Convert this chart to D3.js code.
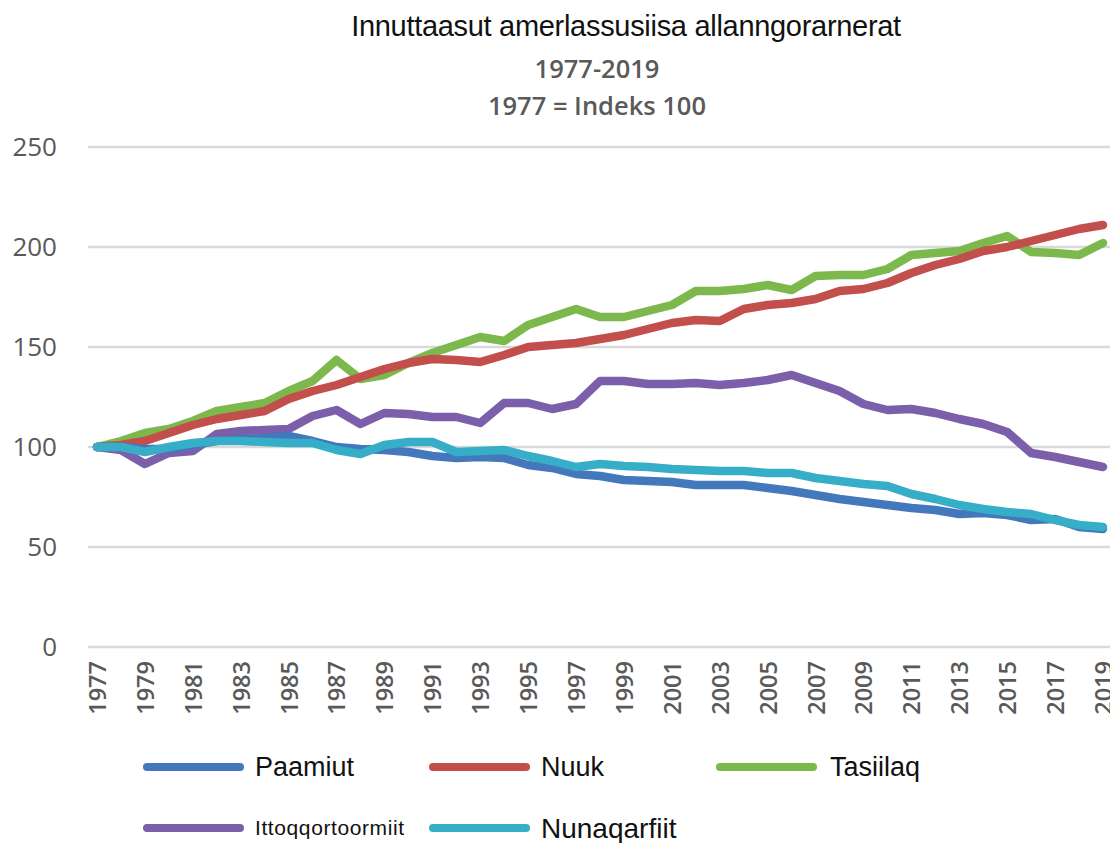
<!DOCTYPE html>
<html lang="kl">
  <head>
    <meta charset="utf-8">
    <title>Innuttaasut amerlassusiisa allanngorarnerat</title>
    <script src="https://cdn.jsdelivr.net/npm/d3@7"></script>
    <style>
      body { margin: 0; background: #fff; }
    </style>
  </head>
  <body>
    <div id="chart"></div>
    <script>
      // years 1977-2019, index 1977 = 100
      const years = d3.range(1977, 2020);

      const paamiut = [100, 100, 99, 99, 101, 103, 104, 104.5, 105.5, 103,
                       100, 99, 98.5, 97.5, 95.5, 94.5, 95, 94.5, 91, 89.5,
                       86.5, 85.5, 83.5, 83, 82.5, 81, 81, 81, 79.5, 78,
                       76, 74, 72.5, 71, 69.5, 68.5, 66.5, 67, 66, 63.5,
                       64, 60, 59];
      const nuuk = [100, 101, 103, 107, 111, 114, 116, 118, 124, 128,
                    131, 135, 139, 142, 144, 143.5, 142.5, 146, 150, 151,
                    152, 154, 156, 159, 162, 163.5, 163, 169, 171, 172,
                    174, 178, 179, 182, 187, 191, 194, 198, 200, 203,
                    206, 209, 211];
      const tasiilaq = [100, 103, 107, 109, 113, 118, 120, 122, 128, 133,
                        143.5, 134, 136, 142, 147, 151, 155, 153, 161, 165,
                        169, 165, 165, 168, 171, 178, 178, 179, 181, 178.5,
                        185.5, 186, 186, 189, 196, 197, 198, 202, 205.5, 197.5,
                        197, 196, 202];
      const ittoqqortoormiit = [100, 98.5, 91.5, 97, 98, 106.5, 108, 108.5, 109, 115.5,
                                118.5, 111.5, 117, 116.5, 115, 115, 112, 122, 122, 119,
                                121.5, 133, 133, 131.5, 131.5, 132, 131, 132, 133.5, 136,
                                132, 128, 121.5, 118.5, 119, 117, 114, 111.5, 107.5, 97,
                                95, 92.5, 90];
      const nunaqarfiit = [100, 100, 97.5, 100, 102, 103, 103, 102.5, 102, 102,
                           98.5, 96.5, 101, 102.5, 102.5, 97.5, 98, 98.5, 95.5, 93,
                           90, 91.5, 90.5, 90, 89, 88.5, 88, 88, 87, 87,
                           84.5, 83, 81.5, 80.5, 76.5, 74, 71, 69, 67.5, 66.5,
                           63.5, 61, 60];

      const yTicks = [0, 50, 100, 150, 200, 250];
      const xTickYears = years.filter(y => (y - 1977) % 2 === 0);

      const title = "Innuttaasut amerlassusiisa allanngorarnerat";
      const subtitle = ["1977-2019", "1977 = Indeks 100"];

      const series = [
        {name: "Paamiut", values: paamiut, color: "#4478bd"},
        {name: "Nuuk", values: nuuk, color: "#c24f4c"},
        {name: "Tasiilaq", values: tasiilaq, color: "#7cb84c"},
        {name: "Ittoqqortoormiit", values: ittoqqortoormiit, color: "#7b5fab"},
        {name: "Nunaqarfiit", values: nunaqarfiit, color: "#36aec7"}
      ];
      // draw order: bottom to top as in the picture
      const drawOrder = ["Tasiilaq", "Nuuk", "Ittoqqortoormiit", "Paamiut", "Nunaqarfiit"];

      const svgWidth = 1110, svgHeight = 843;

      const svg = d3.select("#chart")
          .append("svg")
          .attr("width", svgWidth)
          .attr("height", svgHeight);

      const xScale = d3.scaleLinear()
          .domain([1977, 2019])
          .range([97, 1103]);

      const yScale = d3.scaleLinear()
          .domain([0, 250])
          .range([647, 147]);

      // gridlines
      svg.append("g")
          .selectAll("line")
          .data(yTicks)
          .enter().append("line")
          .attr("x1", 88)
          .attr("x2", svgWidth)
          .attr("y1", d => yScale(d))
          .attr("y2", d => yScale(d))
          .attr("stroke", "#d9d9d9")
          .attr("stroke-width", 2.5);

      // y axis labels
      const yAxis = d3.axisLeft(yScale).tickValues(yTicks).tickSize(0).tickPadding(0);
      svg.append("g")
          .attr("class", "y-axis")
          .attr("transform", "translate(57,0)")
          .call(yAxis)
          .call(g => g.select(".domain").remove())
          .selectAll("text")
          .attr("font-family", "'Open Sans', sans-serif")
          .attr("font-size", 26)
          .attr("fill", "#595959");

      // x axis labels, rotated
      const xAxis = d3.axisBottom(xScale).tickValues(xTickYears).tickFormat(d3.format("d")).tickSize(0);
      svg.append("g")
          .attr("class", "x-axis")
          .attr("transform", `translate(0, ${yScale(0)})`)
          .call(xAxis)
          .call(g => g.select(".domain").remove())
          .selectAll("text")
          .attr("font-family", "'Open Sans', sans-serif")
          .attr("font-size", 23.5)
          .attr("font-weight", 600)
          .attr("fill", "#595959")
          .attr("text-anchor", "end")
          .attr("transform", "rotate(-90)")
          .attr("x", -14)
          .attr("y", 0)
          .attr("dy", "0.36em");

      const line = d3.line()
          .x((d, i) => xScale(years[i]))
          .y(d => yScale(d));

      svg.append("g")
          .selectAll("path")
          .data(drawOrder.map(n => series.find(s => s.name === n)))
          .enter().append("path")
          .attr("fill", "none")
          .attr("stroke", d => d.color)
          .attr("stroke-width", 8.5)
          .attr("stroke-linejoin", "round")
          .attr("stroke-linecap", "round")
          .attr("d", d => line(d.values));

      // titles
      svg.append("text")
          .attr("x", 626)
          .attr("y", 36)
          .attr("text-anchor", "middle")
          .attr("font-family", "'Liberation Sans', sans-serif")
          .attr("font-size", 29)
          .attr("letter-spacing", -0.3)
          .attr("fill", "#111")
          .text(title);

      svg.selectAll("text.sub")
          .data(subtitle)
          .enter().append("text")
          .attr("class", "sub")
          .attr("x", 597)
          .attr("y", (d, i) => 78 + i * 37)
          .attr("text-anchor", "middle")
          .attr("font-family", "'Open Sans', sans-serif")
          .attr("font-size", 25.5)
          .attr("font-weight", 600)
          .attr("fill", "#5a5a5a")
          .text(d => d);

      // legend
      const legendPos = [
        {x: 147, y: 767, size: 27, spacing: 0},
        {x: 433, y: 767, size: 27, spacing: 0},
        {x: 720, y: 767, size: 27, spacing: 0},
        {x: 147, y: 828, size: 21, spacing: 0.6},
        {x: 433, y: 828, size: 28, spacing: 0}
      ];

      const legend = svg.append("g")
          .selectAll("g")
          .data(series)
          .enter().append("g")
          .attr("transform", (d, i) => `translate(${legendPos[i].x}, ${legendPos[i].y})`);

      legend.append("line")
          .attr("x1", 0)
          .attr("x2", 93)
          .attr("stroke", d => d.color)
          .attr("stroke-width", 8)
          .attr("stroke-linecap", "round");

      legend.append("text")
          .attr("x", (d, i) => i === 2 ? 110 : 108)
          .attr("dy", "0.35em")
          .attr("font-family", "'Liberation Sans', sans-serif")
          .attr("font-size", (d, i) => legendPos[i].size)
          .attr("letter-spacing", (d, i) => legendPos[i].spacing)
          .attr("fill", "#111")
          .text(d => d.name);
    </script>
  </body>
</html>
